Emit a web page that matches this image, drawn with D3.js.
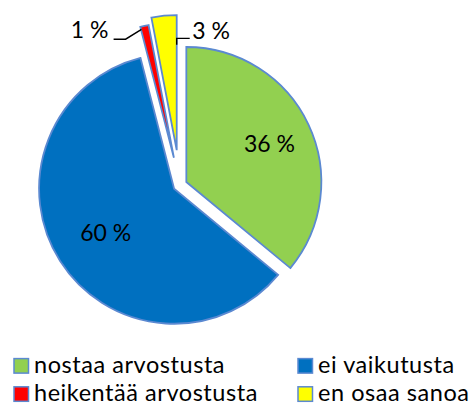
<!DOCTYPE html>
<html>
<head>
<meta charset="utf-8">
<script src="https://cdn.jsdelivr.net/npm/d3@7"></script>
<style>
  html, body { margin: 0; padding: 0; background: #fff; }
  svg { display: block; }
  text { font-family: Lato, "Open Sans", sans-serif; fill: #000; }
</style>
</head>
<body>
<svg id="chart" width="475" height="406"></svg>
<script>
// Answer shares (%)
const categories = ["nostaa arvostusta", "ei vaikutusta", "heikentää arvostusta", "en osaa sanoa"];
const values = [36, 60, 1, 3];
const valueLabels = ["36 %", "60 %", "1 %", "3 %"];
const colors = ["#92D050", "#0070C0", "#FF0000", "#FFFF00"];

// Layout / style settings
const center = { x: 180, y: 185 };
const radius = 135;
const explode = [7, 7, 28, 35];           // offset of each slice along its mid angle
const insideLabelR = [0.68, 0.60, null, null]; // label distance (fraction of radius)
const outline = "#5B89D1";

const svg = d3.select("#chart");
const pie = d3.pie().sort(null).value(d => d.value).startAngle(0).endAngle(2 * Math.PI);
const arc = d3.arc().innerRadius(0).outerRadius(radius);

const data = categories.map((c, i) => ({ name: c, value: values[i], label: valueLabels[i], color: colors[i], i }));
const slices = pie(data);

// polar point relative to slice apex (angle measured clockwise from 12 o'clock)
const polar = (a, r) => [Math.sin(a) * r, -Math.cos(a) * r];

slices.forEach(s => {
  const mid = (s.startAngle + s.endAngle) / 2;
  const [ox, oy] = polar(mid, explode[s.data.i]);
  s.apex = [center.x + ox, center.y + oy];
  s.mid = mid;
});

const g = svg.append("g");
g.selectAll("path.slice")
  .data(slices)
  .join("path")
  .attr("class", "slice")
  .attr("transform", d => `translate(${d.apex[0]},${d.apex[1]})`)
  .attr("d", arc)
  .attr("fill", d => d.data.color)
  .attr("stroke", outline)
  .attr("stroke-width", 1.8)
  .attr("stroke-linejoin", "miter");

// labels inside the two large slices
slices.filter(s => insideLabelR[s.data.i] != null).forEach(s => {
  const [lx, ly] = polar(s.mid, radius * insideLabelR[s.data.i]);
  svg.append("text")
    .attr("x", s.apex[0] + lx)
    .attr("y", s.apex[1] + ly)
    .attr("text-anchor", "middle")
    .attr("dominant-baseline", "central")
    .attr("font-size", 23)
    .text(s.data.label);
});

// labels outside the two thin slices, with leader lines
const leaders = {
  2: { angle: "start", r: 0.98, pts: [[-15.9, 9.8], [-27.9, 9.8]], text: [-33, 9], anchor: "end" },
  3: { angle: "end", r: 0.78, pts: [[0, -6.5], [13, -6.5]], text: [15.5, -5.5], anchor: "start" }
};
slices.filter(s => leaders[s.data.i]).forEach(s => {
  const L = leaders[s.data.i];
  const a = L.angle === "start" ? s.startAngle + 0.004 : s.endAngle;
  const [px, py] = polar(a, radius * L.r);
  const p0 = [s.apex[0] + px, s.apex[1] + py];
  const pts = [p0].concat(L.pts.map(p => [p0[0] + p[0], p0[1] + p[1]]));
  svg.append("path")
    .attr("d", d3.line()(pts))
    .attr("fill", "none")
    .attr("stroke", "#000")
    .attr("stroke-width", 1.4);
  svg.append("text")
    .attr("x", p0[0] + L.text[0])
    .attr("y", p0[1] + L.text[1])
    .attr("text-anchor", L.anchor)
    .attr("font-size", 23)
    .text(s.data.label);
});

// legend: two columns, two rows
const legendCols = [14, 298];
const legendRows = [372.6, 400.8];
const legend = svg.append("g");
data.forEach((d, i) => {
  const x = legendCols[i % 2];
  const y = legendRows[Math.floor(i / 2)];
  legend.append("rect")
    .attr("x", x).attr("y", y - 14)
    .attr("width", 14.5).attr("height", 14.5)
    .attr("fill", d.color)
    .attr("stroke", outline)
    .attr("stroke-width", 1.5);
  legend.append("text")
    .attr("x", x + 20)
    .attr("y", y)
    .attr("font-size", 23.5)
    .attr("letter-spacing", 0.55)
    .text(d.name);
});
</script>
</body>
</html>
